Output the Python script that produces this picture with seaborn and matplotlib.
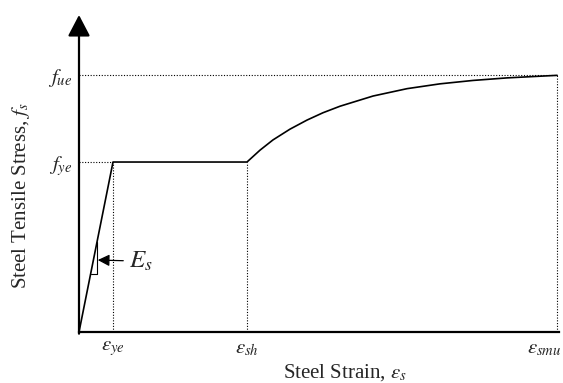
import numpy as np
import matplotlib
matplotlib.use("Agg")
import matplotlib.pyplot as plt
import seaborn as sns

# ============================================
# data (strain, stress)
# ============================================
eps_ye = 0.0025
eps_sh = 0.01235
eps_smu = 0.03515
f_ye = 60.0
f_ue = 90.6

strain = [0.0, 0.0025, 0.01235, 0.01331, 0.01426, 0.01551, 0.01676, 0.01794,
          0.01919, 0.02162, 0.02412, 0.02654, 0.02897, 0.03147, 0.03390, 0.03515]
stress = [0.0, 60.0, 60.0, 64.2, 67.8, 71.6, 74.8, 77.4,
          79.7, 83.3, 85.9, 87.6, 88.8, 89.7, 90.3, 90.6]

# little slope triangle for E_s
tri_strain = [0.00085, 0.00132, 0.00132]
tri_stress = [20.5, 20.5, 31.7]

x_tick_pos = [eps_ye, eps_sh, eps_smu]
x_tick_lbl = [r"$\varepsilon_{ye}$", r"$\varepsilon_{sh}$", r"$\varepsilon_{smu}$"]
y_tick_pos = [f_ye, f_ue]
y_tick_lbl = [r"$f_{ye}$", r"$f_{ue}$"]

# ============================================
# style
# ============================================
sns.set_style("white")
plt.rcParams["font.family"] = ["Liberation Serif", "DejaVu Serif"]
plt.rcParams["mathtext.fontset"] = "stix"

fig = plt.figure(figsize=(5.63, 3.83), dpi=100)
ax = fig.add_axes([79 / 563, 51 / 383, 480 / 563, 317 / 383])

sns.lineplot(x=strain, y=stress, sort=False, color="black", lw=1.2, ax=ax)
ax.plot(tri_strain, tri_stress, color="black", lw=0.8)

# dotted guide lines
dot = dict(color="black", lw=0.8, ls=(0, (1, 1.5)))
ax.plot([0, eps_smu], [f_ue, f_ue], **dot)
ax.plot([0, eps_ye], [f_ye, f_ye], **dot)
for xv in x_tick_pos:
    top = f_ue if xv == eps_smu else f_ye
    ax.plot([xv, xv], [0, top], **dot)

ax.set_xlim(0, 0.03529)
ax.set_ylim(0, 111.9)

# axes: bottom spine + arrowed vertical axis
for s in ["top", "right", "left"]:
    ax.spines[s].set_visible(False)
ax.spines["bottom"].set_linewidth(1.6)
ax.spines["bottom"].set_color("black")
ax.annotate("", xy=(0, 111.9), xytext=(0, -0.6),
            arrowprops=dict(arrowstyle="-|>,head_length=0.65,head_width=0.34",
                            mutation_scale=20, lw=1.6, color="black",
                            shrinkA=0, shrinkB=0),
            annotation_clip=False)

# E_s marker
ax.annotate(r"$E_s$", xy=(0.00138, 25.4), xytext=(0.00370, 25.0),
            fontsize=18, ha="left", va="center",
            arrowprops=dict(arrowstyle="-|>,head_length=0.5,head_width=0.25",
                            mutation_scale=14, lw=0.9, color="black",
                            shrinkA=2, shrinkB=0))

# strain ticks; the last label sits flush against the right edge
ax.set_xticks(x_tick_pos)
ax.set_xticklabels(x_tick_lbl[:2] + [""], fontsize=15)
ax.annotate(x_tick_lbl[2], xy=(eps_smu, 0), xycoords=("data", "axes fraction"),
            xytext=(3, -5), textcoords="offset points",
            ha="right", va="top", fontsize=15)
ax.set_yticks(y_tick_pos)
ax.set_yticklabels(y_tick_lbl, fontsize=15)
ax.tick_params(axis="both", length=0)
ax.tick_params(axis="x", pad=5)
ax.tick_params(axis="y", pad=5)

ax.set_xlabel(r"Steel Strain, $\varepsilon_s$", fontsize=15)
ax.xaxis.set_label_coords(0.554, -0.094)
ax.set_ylabel(r"Steel Tensile Stress, $f_s$", fontsize=15)
ax.yaxis.set_label_coords(-0.098, 0.43)

fig.savefig("out.png", dpi=100)
